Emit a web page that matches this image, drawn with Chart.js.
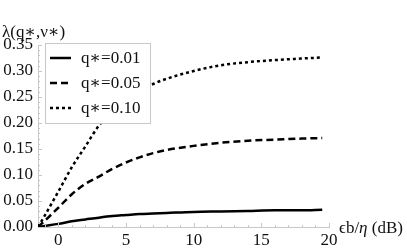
<!DOCTYPE html>
<html>
<head>
<meta charset="utf-8">
<script src="https://cdn.jsdelivr.net/npm/chart.js@4"></script>
<style>
  body { margin: 0; background: #fff; }
  #wrap { width: 407px; height: 252px; position: relative; }
</style>
</head>
<body>
<div id="wrap"><canvas id="chart"></canvas></div>
<script>
// x values in dB
const dbValues = [-1.5, -1, 0, 1, 2, 3, 4, 5, 6, 7, 8, 10, 12, 14, 16, 18, 19.5];
// lambda for each q*
const q01 = [0, 0.002, 0.006, 0.011, 0.0145, 0.018, 0.021, 0.023, 0.025, 0.026, 0.027, 0.029, 0.030, 0.031, 0.032, 0.032, 0.033];
const q05 = [0, 0.012, 0.037, 0.063, 0.083, 0.097, 0.112, 0.124, 0.134, 0.142, 0.148, 0.156, 0.162, 0.166, 0.168, 0.170, 0.171];
const q10 = [0, 0.022, 0.068, 0.115, 0.155, 0.195, 0.222, 0.245, 0.262, 0.275, 0.285, 0.300, 0.311, 0.317, 0.321, 0.324, 0.326];
const seriesLabels = ["q\u2217=0.01", "q\u2217=0.05", "q\u2217=0.10"];
const xTicks = [0, 5, 10, 15, 20];

const serif = "'Liberation Serif', 'DejaVu Serif', serif";
const axisGray = "#c8c8c8";

function toPoints(ys) {
  return dbValues.map((x, i) => ({ x: x, y: ys[i] }));
}

// draws minor ticks, axis titles and the boxed legend
const extrasPlugin = {
  id: "extras",
  afterDraw(chart) {
    const ctx = chart.ctx;
    const xs = chart.scales.x;
    const ys = chart.scales.y;
    const area = chart.chartArea;
    ctx.save();
    ctx.strokeStyle = axisGray;
    ctx.lineWidth = 1;
    ctx.beginPath();
    for (let v = -1; v <= 20; v++) {
      const px = Math.round(xs.getPixelForValue(v)) + 0.5;
      const len = v % 5 === 0 ? 4 : 2;
      ctx.moveTo(px, area.bottom);
      ctx.lineTo(px, area.bottom - len);
    }
    for (let i = 0; i <= 35; i++) {
      const py = Math.round(ys.getPixelForValue(i / 100)) + 0.5;
      const len = i % 5 === 0 ? 4 : 2;
      ctx.moveTo(area.left, py);
      ctx.lineTo(area.left + len, py);
    }
    ctx.stroke();

    // axis titles
    ctx.fillStyle = "#111";
    ctx.textBaseline = "alphabetic";
    ctx.textAlign = "left";
    ctx.font = "17px " + serif;
    ctx.fillText("\u03bb(q\u2217,\u03bd\u2217)", 2, 37);

    let tx = 339;
    const ty = 233;
    ctx.font = "17px " + serif;
    ctx.fillText("\u03f5b/", tx, ty);
    tx += ctx.measureText("\u03f5b/").width;
    ctx.font = "italic 17px " + serif;
    ctx.fillText("\u03b7", tx, ty);
    tx += ctx.measureText("\u03b7").width;
    ctx.font = "17px " + serif;
    ctx.fillText(" (dB)", tx, ty);

    // legend box
    ctx.fillStyle = "#fff";
    ctx.fillRect(45.5, 43.5, 105, 80);
    ctx.strokeStyle = axisGray;
    ctx.strokeRect(45.5, 43.5, 105, 80);
    ctx.font = "17px " + serif;
    ctx.textBaseline = "middle";
    chart.data.datasets.forEach((ds, i) => {
      const ly = 58 + 25 * i;
      ctx.strokeStyle = "#000";
      ctx.lineWidth = ds.borderWidth;
      ctx.setLineDash(ds.borderDash || []);
      ctx.beginPath();
      ctx.moveTo(50, ly);
      ctx.lineTo(71, ly);
      ctx.stroke();
      ctx.setLineDash([]);
      ctx.fillStyle = "#111";
      ctx.fillText(ds.label, 81, ly + 1);
    });
    ctx.restore();
  }
};

const ctx = document.getElementById("chart").getContext("2d");
new Chart(ctx, {
  type: "line",
  data: {
    datasets: [
      { label: seriesLabels[0], data: toPoints(q01), borderColor: "#000", borderWidth: 2.5, borderDash: [] },
      { label: seriesLabels[1], data: toPoints(q05), borderColor: "#000", borderWidth: 2.5, borderDash: [7, 4] },
      { label: seriesLabels[2], data: toPoints(q10), borderColor: "#000", borderWidth: 2.5, borderDash: [3, 3] }
    ]
  },
  options: {
    responsive: true,
    maintainAspectRatio: false,
    animation: false,
    elements: {
      point: { radius: 0 },
      line: { cubicInterpolationMode: "monotone", fill: false }
    },
    layout: { padding: { top: 45, right: 78, left: 0, bottom: 0 } },
    scales: {
      x: {
        type: "linear",
        min: -1.5,
        max: 20,
        afterBuildTicks: (s) => { s.ticks = xTicks.map(v => ({ value: v })); },
        afterFit: (s) => { s.height = 25; },
        grid: { display: true, drawOnChartArea: false, drawTicks: false, color: axisGray },
        border: { display: true, color: axisGray },
        ticks: { color: "#111", font: { family: serif, size: 17 }, padding: 3, maxRotation: 0 }
      },
      y: {
        min: 0,
        max: 0.35,
        afterFit: (s) => { s.width = 38; },
        grid: { display: true, drawOnChartArea: false, drawTicks: false, color: axisGray },
        border: { display: true, color: axisGray },
        ticks: {
          stepSize: 0.05,
          autoSkip: false,
          color: "#111",
          font: { family: serif, size: 17 },
          padding: 5,
          callback: (v) => v.toFixed(2)
        }
      }
    },
    plugins: {
      legend: { display: false },
      tooltip: { enabled: false }
    }
  },
  plugins: [extrasPlugin]
});
</script>
</body>
</html>
